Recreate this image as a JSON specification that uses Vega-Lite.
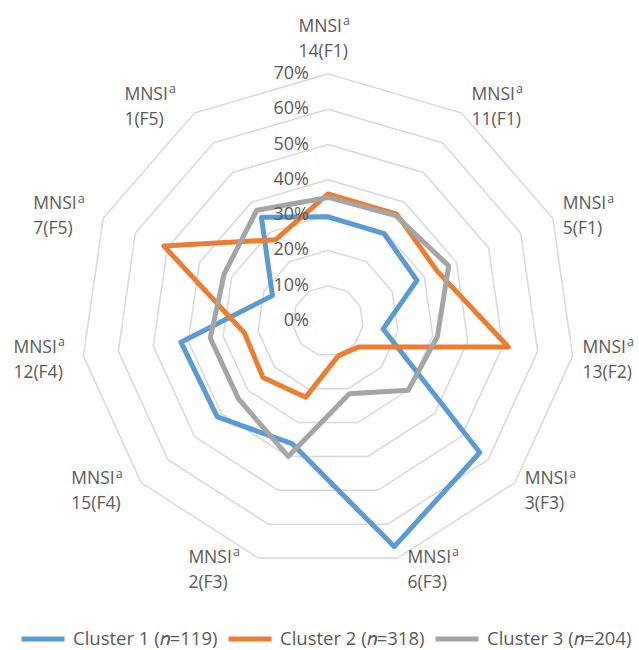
{
  "$schema": "https://vega.github.io/schema/vega-lite/v6.json",
  "width": 639,
  "height": 650,
  "padding": 0,
  "autosize": {"type": "none"},
  "config": {"view": {"stroke": null}, "font": "Open Sans"},
  "datasets": {
    "rings": [
      {"level": 0.1, "k": [0,1,2,3,4,5,6,7,8,9,10]},
      {"level": 0.2, "k": [0,1,2,3,4,5,6,7,8,9,10]},
      {"level": 0.3, "k": [0,1,2,3,4,5,6,7,8,9,10]},
      {"level": 0.4, "k": [0,1,2,3,4,5,6,7,8,9,10]},
      {"level": 0.5, "k": [0,1,2,3,4,5,6,7,8,9,10]},
      {"level": 0.6, "k": [0,1,2,3,4,5,6,7,8,9,10]},
      {"level": 0.7, "k": [0,1,2,3,4,5,6,7,8,9,10]}
    ],
    "series": [
      {"cluster": "Cluster 1 (𝑛=119)", "k": 0, "value": 29.5},
      {"cluster": "Cluster 1 (𝑛=119)", "k": 1, "value": 29.4},
      {"cluster": "Cluster 1 (𝑛=119)", "k": 2, "value": 27.7},
      {"cluster": "Cluster 1 (𝑛=119)", "k": 3, "value": 15.8},
      {"cluster": "Cluster 1 (𝑛=119)", "k": 4, "value": 56.9},
      {"cluster": "Cluster 1 (𝑛=119)", "k": 5, "value": 66.6},
      {"cluster": "Cluster 1 (𝑛=119)", "k": 6, "value": 36.2},
      {"cluster": "Cluster 1 (𝑛=119)", "k": 7, "value": 41.5},
      {"cluster": "Cluster 1 (𝑛=119)", "k": 8, "value": 42.1},
      {"cluster": "Cluster 1 (𝑛=119)", "k": 9, "value": 17.3},
      {"cluster": "Cluster 1 (𝑛=119)", "k": 10, "value": 34.9},
      {"cluster": "Cluster 2 (𝑛=318)", "k": 0, "value": 36.0},
      {"cluster": "Cluster 2 (𝑛=318)", "k": 1, "value": 36.0},
      {"cluster": "Cluster 2 (𝑛=318)", "k": 2, "value": 34.0},
      {"cluster": "Cluster 2 (𝑛=318)", "k": 3, "value": 51.6},
      {"cluster": "Cluster 2 (𝑛=318)", "k": 4, "value": 11.3},
      {"cluster": "Cluster 2 (𝑛=318)", "k": 5, "value": 10.3},
      {"cluster": "Cluster 2 (𝑛=318)", "k": 6, "value": 22.5},
      {"cluster": "Cluster 2 (𝑛=318)", "k": 7, "value": 24.4},
      {"cluster": "Cluster 2 (𝑛=318)", "k": 8, "value": 23.9},
      {"cluster": "Cluster 2 (𝑛=318)", "k": 9, "value": 51.1},
      {"cluster": "Cluster 2 (𝑛=318)", "k": 10, "value": 27.4},
      {"cluster": "Cluster 3 (𝑛=204)", "k": 0, "value": 35.0},
      {"cluster": "Cluster 3 (𝑛=204)", "k": 1, "value": 35.5},
      {"cluster": "Cluster 3 (𝑛=204)", "k": 2, "value": 37.6},
      {"cluster": "Cluster 3 (𝑛=204)", "k": 3, "value": 31.3},
      {"cluster": "Cluster 3 (𝑛=204)", "k": 4, "value": 30.0},
      {"cluster": "Cluster 3 (𝑛=204)", "k": 5, "value": 21.5},
      {"cluster": "Cluster 3 (𝑛=204)", "k": 6, "value": 40.0},
      {"cluster": "Cluster 3 (𝑛=204)", "k": 7, "value": 33.6},
      {"cluster": "Cluster 3 (𝑛=204)", "k": 8, "value": 33.7},
      {"cluster": "Cluster 3 (𝑛=204)", "k": 9, "value": 32.3},
      {"cluster": "Cluster 3 (𝑛=204)", "k": 10, "value": 37.3}
    ],
    "axes": [
      {"k": 0, "item": "14(F1)"},
      {"k": 1, "item": "11(F1)"},
      {"k": 2, "item": "5(F1)"},
      {"k": 3, "item": "13(F2)"},
      {"k": 4, "item": "3(F3)"},
      {"k": 5, "item": "6(F3)"},
      {"k": 6, "item": "2(F3)"},
      {"k": 7, "item": "15(F4)"},
      {"k": 8, "item": "12(F4)"},
      {"k": 9, "item": "7(F5)"},
      {"k": 10, "item": "1(F5)"}
    ],
    "ticks": [
      {"level": 0.0, "label": "0%"},
      {"level": 0.1, "label": "10%"},
      {"level": 0.2, "label": "20%"},
      {"level": 0.3, "label": "30%"},
      {"level": 0.4, "label": "40%"},
      {"level": 0.5, "label": "50%"},
      {"level": 0.6, "label": "60%"},
      {"level": 0.7, "label": "70%"}
    ]
  },
  "layer": [
    {
      "data": {"name": "rings"},
      "transform": [
        {"flatten": ["k"]},
        {"calculate": "datum.level*sin(datum.k*2*PI/11)", "as": "x"},
        {"calculate": "datum.level*cos(datum.k*2*PI/11)", "as": "y"}
      ],
      "mark": {"type": "line", "interpolate": "linear-closed", "stroke": "#d9d9d9", "strokeWidth": 1.5},
      "encoding": {
        "x": {"field": "x", "type": "quantitative", "scale": {"domain": [-0.92918, 0.88102], "nice": false, "zero": false}, "axis": null},
        "y": {"field": "y", "type": "quantitative", "scale": {"domain": [-0.93201, 0.90935], "nice": false, "zero": false}, "axis": null},
        "detail": {"field": "level", "type": "nominal"},
        "order": {"field": "k", "type": "quantitative"}
      }
    },
    {
      "data": {"name": "series"},
      "transform": [
        {"calculate": "datum.value/100*sin(datum.k*2*PI/11)", "as": "x"},
        {"calculate": "datum.value/100*cos(datum.k*2*PI/11)", "as": "y"}
      ],
      "mark": {"type": "line", "interpolate": "linear-closed", "strokeWidth": 5, "strokeJoin": "round", "strokeCap": "round"},
      "encoding": {
        "x": {"field": "x", "type": "quantitative", "scale": {"domain": [-0.92918, 0.88102], "nice": false, "zero": false}, "axis": null},
        "y": {"field": "y", "type": "quantitative", "scale": {"domain": [-0.93201, 0.90935], "nice": false, "zero": false}, "axis": null},
        "color": {
          "field": "cluster", "type": "nominal",
          "scale": {"domain": ["Cluster 1 (𝑛=119)", "Cluster 2 (𝑛=318)", "Cluster 3 (𝑛=204)"], "range": ["#5B9BD5", "#ED7D31", "#A5A5A5"]},
          "legend": {
            "orient": "none", "legendX": 19, "legendY": 615, "direction": "horizontal", "title": null,
            "symbolType": "stroke", "symbolSize": 1849, "symbolStrokeWidth": 5,
            "labelFontSize": 18.5, "labelFont": "Open Sans", "labelColor": "#595959", "labelOffset": 6,
            "columnPadding": 0, "labelLimit": 300
          }
        },
        "order": {"field": "k", "type": "quantitative"}
      }
    },
    {
      "data": {"name": "ticks"},
      "transform": [
        {"calculate": "0", "as": "x"},
        {"calculate": "datum.level", "as": "y"}
      ],
      "mark": {"type": "text", "align": "right", "baseline": "middle", "dx": -19, "fontSize": 18, "color": "#595959"},
      "encoding": {
        "x": {"field": "x", "type": "quantitative", "scale": {"domain": [-0.92918, 0.88102], "nice": false, "zero": false}, "axis": null},
        "y": {"field": "y", "type": "quantitative", "scale": {"domain": [-0.93201, 0.90935], "nice": false, "zero": false}, "axis": null},
        "text": {"field": "label"}
      }
    },
    {
      "data": {"name": "axes"},
      "transform": [
        {"calculate": "sin(datum.k*2*PI/11)", "as": "s"},
        {"calculate": "cos(datum.k*2*PI/11)", "as": "c"},
        {"calculate": "0.7*datum.s + (datum.s > 0.01 ? 35.5 : (datum.s < -0.01 ? -44.5 : -4))/353", "as": "x"},
        {"calculate": "0.7*datum.c + (abs(datum.s) < 0.01 ? 37 : 10*datum.c)/353", "as": "y"}
      ],
      "layer": [
        {
          "mark": {"type": "text", "align": "left", "baseline": "alphabetic", "dx": -25.5, "dy": -5, "fontSize": 17.5, "color": "#595959"},
          "encoding": {"text": {"value": "MNSI"}}
        },
        {
          "mark": {"type": "text", "align": "left", "baseline": "alphabetic", "dx": 19, "dy": -11.5, "fontSize": 12.5, "color": "#595959"},
          "encoding": {"text": {"value": "a"}}
        },
        {
          "mark": {"type": "text", "align": "left", "baseline": "alphabetic", "dx": -25.5, "dy": 20, "fontSize": 17.5, "color": "#595959"},
          "encoding": {"text": {"field": "item"}}
        }
      ],
      "encoding": {
        "x": {"field": "x", "type": "quantitative", "scale": {"domain": [-0.92918, 0.88102], "nice": false, "zero": false}, "axis": null},
        "y": {"field": "y", "type": "quantitative", "scale": {"domain": [-0.93201, 0.90935], "nice": false, "zero": false}, "axis": null}
      }
    }
  ]
}
